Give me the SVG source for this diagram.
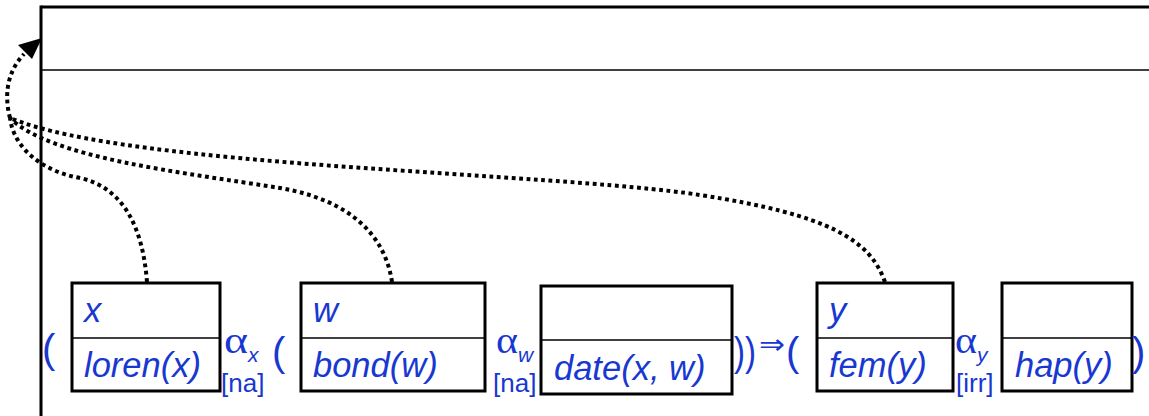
<svg xmlns="http://www.w3.org/2000/svg" width="1149" height="416" viewBox="0 0 1149 416">
<style>
.frame{fill:none;stroke:#000;stroke-width:3}
.box{fill:#fff;stroke:#000;stroke-width:3}
.div{stroke:#000;stroke-width:1.5}
.t{font-family:"Liberation Sans",Arial,sans-serif;font-style:italic;font-size:34.5px;fill:#1838d0}
.p{font-family:"Liberation Sans",Arial,sans-serif;font-size:40px;fill:#1838d0}
.a{font-family:"Liberation Serif","DejaVu Serif",serif;font-size:38px;fill:#1838d0}
.s{font-family:"Liberation Sans",Arial,sans-serif;font-style:italic;font-size:21px;fill:#1838d0}
.b{font-family:"Liberation Sans",Arial,sans-serif;font-size:26px;fill:#1838d0}
.c{fill:none;stroke:#000;stroke-width:4;stroke-dasharray:3.8 3.6}
</style>
<g id="frame">
<line class="frame" x1="41" y1="7" x2="1149" y2="7"/>
<line class="frame" x1="41" y1="5.5" x2="41" y2="416"/>
<line x1="41" y1="70" x2="1149" y2="70" stroke="#000" stroke-width="1.5"/>
</g>
<g id="connectors">
<path class="c" d="M147,282 C143,230 125,188 80,178 C45,172 14,150 10,118"/>
<path class="c" d="M392,282 C385,235 350,200 280,188 C180,172 50,158 10,118"/>
<path class="c" d="M885,282 C870,240 830,215 700,195 C550,172 130,168 10,118"/>
<path class="c" d="M10,118 C4,95 7,72 24,54" stroke-dasharray="6 2"/>
<polygon points="42,38 18,45 32,59" fill="#000"/>
</g>
<g id="node-x">
<rect class="box" x="72" y="283" width="148" height="108"/>
<line class="div" x1="72" y1="338" x2="220" y2="338"/>
<text class="t" x="84" y="322">x</text>
<text class="t" x="84" y="377">loren(x)</text>
</g>
<g id="node-w">
<rect class="box" x="301" y="283" width="184" height="108"/>
<line class="div" x1="301" y1="338" x2="485" y2="338"/>
<text class="t" x="313" y="322">w</text>
<text class="t" x="313" y="377">bond(w)</text>
</g>
<g id="node-date">
<rect class="box" x="541" y="286" width="191" height="108"/>
<line class="div" x1="541" y1="340" x2="732" y2="340"/>
<text class="t" x="554" y="380">date(x, w)</text>
</g>
<g id="node-y">
<rect class="box" x="817" y="283" width="136" height="108"/>
<line class="div" x1="817" y1="338" x2="953" y2="338"/>
<text class="t" x="829" y="322">y</text>
<text class="t" x="829" y="377">fem(y)</text>
</g>
<g id="node-hap">
<rect class="box" x="1002" y="283" width="130" height="108"/>
<line class="div" x1="1002" y1="338" x2="1132" y2="338"/>
<text class="t" x="1015" y="377">hap(y)</text>
</g>
<g id="labels">
<text class="p" x="42" y="363" font-size="46">(</text>
<text class="a" x="224" y="353" textLength="24" lengthAdjust="spacingAndGlyphs">α</text><text class="s" x="248" y="362">x</text>
<text class="b" x="221" y="392">[na]</text>
<text class="p" x="272" y="366">(</text>
<text class="a" x="496" y="353" textLength="22" lengthAdjust="spacingAndGlyphs">α</text><text class="s" x="518" y="362">w</text>
<text class="b" x="493" y="392">[na]</text>
<text class="p" x="734" y="366" textLength="22" lengthAdjust="spacingAndGlyphs">))</text>
<text x="759" y="354" font-family="DejaVu Sans,sans-serif" font-size="28" fill="#1838d0" textLength="26" lengthAdjust="spacingAndGlyphs">⇒</text>
<text class="p" x="786" y="366">(</text>
<text class="a" x="955" y="353" textLength="22" lengthAdjust="spacingAndGlyphs">α</text><text class="s" x="977" y="362">y</text>
<text class="b" x="956" y="392">[irr]</text>
<text class="p" x="1132" y="366">)</text>
</g>
</svg>
